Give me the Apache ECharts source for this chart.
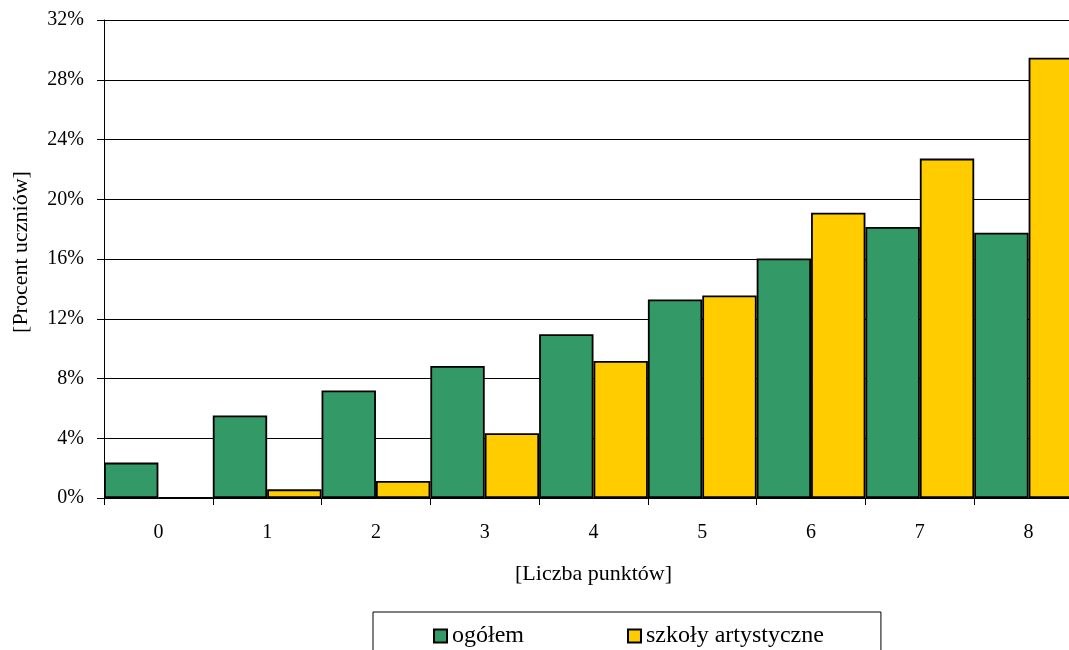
<!DOCTYPE html>
<html>
<head>
<meta charset="utf-8">
<script src="https://cdn.jsdelivr.net/npm/echarts@6/dist/echarts.min.js"></script>
<style>
html,body{margin:0;padding:0;background:#fff;}
#main{width:1069px;height:650px;}
</style>
</head>
<body>
<div id="main"></div>
<script>
const categories = ['0','1','2','3','4','5','6','7','8'];
const ogolem = [2.37, 5.52, 7.2, 8.84, 10.96, 13.29, 16.04, 18.14, 17.76];
const artystyczne = [0, 0.58, 1.14, 4.34, 9.17, 13.56, 19.1, 22.72, 29.47];
const seriesNames = ['ogółem', 'szkoły artystyczne'];
const xTitle = '[Liczba punktów]';
const yTitle = '[Procent uczniów]';

const FONT = "'Liberation Serif', 'Times New Roman', serif";
const chart = echarts.init(document.getElementById('main'), null, {renderer:'canvas'});
chart.setOption({
  animation: false,
  backgroundColor: '#fff',
  textStyle: {fontFamily: FONT, color: '#000'},
  grid: {left: 104, top: 20, width: 979, height: 478, containLabel: false, outerBoundsMode: 'none'},
  legend: {
    left: 373, top: 612,
    padding: [12, 57, 30, 60],
    borderColor: '#000', borderWidth: 1,
    itemWidth: 13, itemHeight: 13, itemGap: 103,
    icon: 'rect',
    textStyle: {fontFamily: FONT, fontSize: 24, color: '#000'},
    data: seriesNames
  },
  xAxis: {
    type: 'category', data: categories,
    boundaryGap: true,
    name: xTitle, nameLocation: 'middle', nameGap: 65,
    nameTextStyle: {fontFamily: FONT, fontSize: 22, color: '#000'},
    axisLine: {show: true, lineStyle: {color: '#000', width: 1}},
    axisTick: {show: true, alignWithLabel: false, length: 7, lineStyle: {color: '#000'}},
    axisLabel: {fontFamily: FONT, fontSize: 20, color: '#000', margin: 25},
    splitLine: {show: false}
  },
  yAxis: {
    type: 'value', min: 0, max: 32, interval: 4,
    name: yTitle, nameLocation: 'middle', nameGap: 72, nameRotate: 90,
    nameTextStyle: {fontFamily: FONT, fontSize: 22, color: '#000', padding: [0,0,0,14]},
    axisLine: {show: true, lineStyle: {color: '#000', width: 1}},
    axisTick: {show: true, length: 7, lineStyle: {color: '#000'}},
    axisLabel: {fontFamily: FONT, fontSize: 20, color: '#000', margin: 20, formatter: '{value}%'},
    splitLine: {show: true, lineStyle: {color: '#000', width: 1}}
  },
  series: [
    {
      name: seriesNames[0], type: 'bar', data: ogolem,
      barGap: '0%', barCategoryGap: '0%',
      itemStyle: {color: '#339966', borderColor: '#000', borderWidth: 1.8}
    },
    {
      name: seriesNames[1], type: 'bar', data: artystyczne,
      barGap: '0%', barCategoryGap: '0%',
      itemStyle: {color: '#FFCC00', borderColor: '#000', borderWidth: 1.8}
    }
  ]
});
</script>
</body>
</html>
